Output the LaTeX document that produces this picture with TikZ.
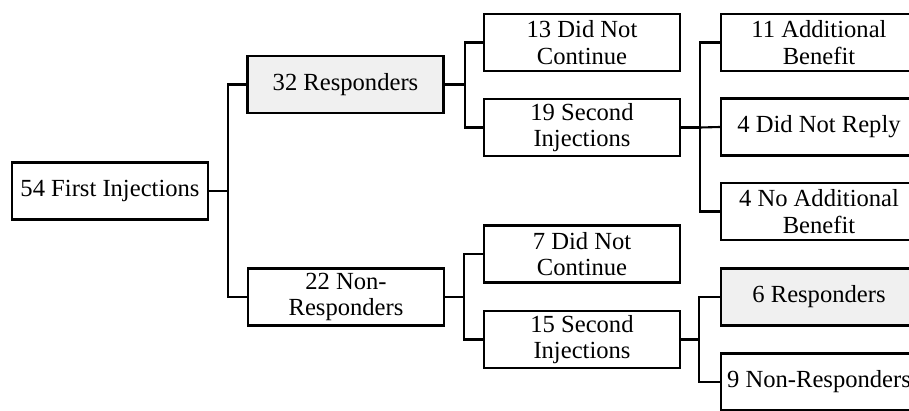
\documentclass[tikz,border=0pt]{standalone}
\usepackage{fontspec}
\setmainfont{Liberation Serif}
\definecolor{boxgray}{HTML}{F0F0F0}
\begin{document}
\begin{tikzpicture}[x=1pt,y=-1pt,
  box/.style={draw=black, line width=2.4pt, fill=white, minimum width=196pt, minimum height=57pt,
    inner sep=0pt, align=center, font=\fontsize{24.6}{26.5}\selectfont},
  graybox/.style={box, fill=boxgray},
  link/.style={draw=black, line width=2.1pt}]
\clip (0,0) rectangle (909,410);
\node[box] (A) at (110,191) {54 First Injections};
\node[graybox] (B) at (345.5,84.5) {32 Responders};
\node[box] (H) at (346,297) {22 Non-\\Responders};
\node[box] (C) at (582,42.5) {13 Did Not\\Continue};
\node[box] (D) at (582,127.5) {19 Second\\Injections};
\node[box] (I) at (582,254) {7 Did Not\\Continue};
\node[box] (J) at (582,339.5) {15 Second\\Injections};
\node[box] (E) at (819,42.5) {11 Additional\\Benefit};
\node[box] (F) at (819,127) {4 Did Not Reply};
\node[box] (G) at (819,211.5) {4 No Additional\\Benefit};
\node[graybox] (K) at (819,297) {6 Responders};
\node[box] (L) at (819,382) {9 Non-Responders};
\coordinate (jA) at (228,191);
\coordinate (jB) at (465,84.5);
\coordinate (jD) at (700,127.5);
\coordinate (jH) at (464,297);
\coordinate (jJ) at (699,339.5);
\draw[link] (A.east) -- (jA);
\draw[link] (B.west) -| (jA);
\draw[link] (H.west) -| (jA);
\draw[link] (B.east) -- (jB);
\draw[link] (C.west) -| (jB);
\draw[link] (D.west) -| (jB);
\draw[link] (D.east) -- (jD);
\draw[link] (E.west) -| (jD);
\draw[link] (F.west) -- (jD);
\draw[link] (G.west) -| (jD);
\draw[link] (H.east) -- (jH);
\draw[link] (I.west) -| (jH);
\draw[link] (J.west) -| (jH);
\draw[link] (J.east) -- (jJ);
\draw[link] (K.west) -| (jJ);
\draw[link] (L.west) -| (jJ);
\end{tikzpicture}
\end{document}
